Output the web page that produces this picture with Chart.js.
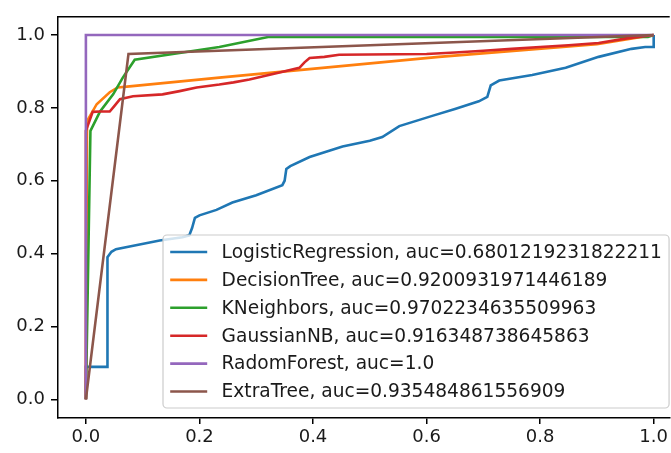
<!DOCTYPE html>
<html>
<head>
<meta charset="utf-8">
<script src="https://cdn.jsdelivr.net/npm/chart.js@4/dist/chart.umd.min.js"></script>
<style>
  html, body { margin: 0; padding: 0; background: #fff; overflow: hidden; }
  #wrap { width: 671px; height: 453px; position: relative; }
</style>
</head>
<body>
<div id="wrap"><canvas id="c" width="671" height="453"></canvas></div>
<script>
// ---- Data ----
const modelNames = ["LogisticRegression", "DecisionTree", "KNeighbors", "GaussianNB", "RadomForest", "ExtraTree"];
const aucValues = ["0.6801219231822211", "0.9200931971446189", "0.9702234635509963", "0.916348738645863", "1.0", "0.935484861556909"];
const seriesColors = ["#1f77b4", "#ff7f0e", "#2ca02c", "#d62728", "#9467bd", "#8c564b"];

const lrFpr = [0, 0, 0.038, 0.038, 0.045, 0.053, 0.088, 0.13, 0.17, 0.182, 0.187, 0.192, 0.2, 0.23, 0.258, 0.3, 0.346, 0.35, 0.353, 0.36, 0.394, 0.452, 0.5, 0.522, 0.552, 0.61, 0.65, 0.692, 0.707, 0.713, 0.728, 0.786, 0.845, 0.903, 0.961, 0.985, 1, 1];
const lrTpr = [0, 0.089, 0.089, 0.39, 0.405, 0.412, 0.423, 0.436, 0.445, 0.45, 0.47, 0.498, 0.505, 0.52, 0.54, 0.56, 0.588, 0.6, 0.632, 0.64, 0.665, 0.694, 0.71, 0.72, 0.75, 0.778, 0.797, 0.818, 0.83, 0.862, 0.875, 0.89, 0.91, 0.94, 0.962, 0.967, 0.967, 1];

const dtFpr = [0, 0.002, 0.019, 0.042, 0.056, 0.077, 0.235, 0.622, 0.9, 1];
const dtTpr = [0, 0.764, 0.81, 0.843, 0.856, 0.859, 0.883, 0.94, 0.975, 1];

const knFpr = [0, 0.008, 0.025, 0.048, 0.065, 0.086, 0.235, 0.323, 0.99, 1];
const knTpr = [0, 0.737, 0.79, 0.837, 0.883, 0.932, 0.967, 0.995, 0.995, 1];

const nbFpr = [0, 0, 0.003, 0.012, 0.025, 0.042, 0.05, 0.06, 0.083, 0.135, 0.165, 0.195, 0.235, 0.26, 0.288, 0.341, 0.376, 0.385, 0.394, 0.42, 0.446, 0.6, 0.65, 0.7, 0.75, 0.8, 0.85, 0.903, 0.95, 1];
const nbTpr = [0, 0.737, 0.75, 0.789, 0.79, 0.79, 0.805, 0.824, 0.832, 0.837, 0.846, 0.856, 0.864, 0.87, 0.878, 0.897, 0.91, 0.925, 0.937, 0.94, 0.946, 0.948, 0.952, 0.957, 0.962, 0.967, 0.972, 0.978, 0.99, 1];

const rfFpr = [0, 0, 1];
const rfTpr = [0, 1, 1];

const etFpr = [0, 0.075, 1];
const etTpr = [0, 0.948, 1];

const xTickValues = [0, 0.2, 0.4, 0.6, 0.8, 1.0];
const yTickValues = [0, 0.2, 0.4, 0.6, 0.8, 1.0];

// ---- Build datasets ----
const fprList = [lrFpr, dtFpr, knFpr, nbFpr, rfFpr, etFpr];
const tprList = [lrTpr, dtTpr, knTpr, nbTpr, rfTpr, etTpr];
const datasets = modelNames.map((name, i) => ({
  label: name + ", auc=" + aucValues[i],
  data: fprList[i].map((x, k) => ({ x: x, y: tprList[i][k] })),
  borderColor: seriesColors[i],
  backgroundColor: seriesColors[i],
  borderWidth: 2.6,
  pointRadius: 0,
  showLine: true,
  fill: false,
  tension: 0,
  order: modelNames.length - 1 - i
}));

const FONT = "'DejaVu Sans', sans-serif";
const FONT_SIZE = 18;
const LEGEND_FONT_SIZE = 18.6;

const frameAndLegend = {
  id: 'frameAndLegend',
  afterDraw(chart) {
    const ctx = chart.ctx;
    const a = chart.chartArea;
    ctx.save();
    // top spine
    ctx.strokeStyle = '#000';
    ctx.lineWidth = 1.5;
    ctx.beginPath();
    ctx.moveTo(a.left, a.top);
    ctx.lineTo(a.right, a.top);
    ctx.stroke();

    // legend
    ctx.font = LEGEND_FONT_SIZE + "px " + FONT;
    const labels = chart.data.datasets.map(d => d.label);
    let maxW = 0;
    labels.forEach(t => { maxW = Math.max(maxW, ctx.measureText(t).width); });
    const pad = 7.2, handleLen = 37, handleGap = 14.4, rowH = 27.9;
    const bx = 163, by = 235;
    const bw = pad + handleLen + handleGap + maxW + pad;
    const bh = 173;
    const r = 4;
    ctx.beginPath();
    ctx.moveTo(bx + r, by);
    ctx.lineTo(bx + bw - r, by);
    ctx.arcTo(bx + bw, by, bx + bw, by + r, r);
    ctx.lineTo(bx + bw, by + bh - r);
    ctx.arcTo(bx + bw, by + bh, bx + bw - r, by + bh, r);
    ctx.lineTo(bx + r, by + bh);
    ctx.arcTo(bx, by + bh, bx, by + bh - r, r);
    ctx.lineTo(bx, by + r);
    ctx.arcTo(bx, by, bx + r, by, r);
    ctx.closePath();
    ctx.fillStyle = 'rgba(255,255,255,0.8)';
    ctx.fill();
    ctx.strokeStyle = '#cccccc';
    ctx.lineWidth = 1.2;
    ctx.stroke();

    ctx.textBaseline = 'middle';
    ctx.textAlign = 'left';
    chart.data.datasets.forEach((d, i) => {
      const cy = 252 + i * rowH;
      ctx.strokeStyle = d.borderColor;
      ctx.lineWidth = 2.6;
      ctx.beginPath();
      ctx.moveTo(bx + pad, cy);
      ctx.lineTo(bx + pad + handleLen, cy);
      ctx.stroke();
      ctx.fillStyle = '#1a1a1a';
      ctx.fillText(d.label, bx + pad + handleLen + handleGap, cy + 1);
    });
    ctx.restore();
  }
};

new Chart(document.getElementById('c'), {
  type: 'scatter',
  data: { datasets: datasets },
  options: {
    responsive: false,
    animation: false,
    devicePixelRatio: 1,
    layout: { padding: { top: 11.5, right: 0, left: 0, bottom: 0 }, autoPadding: false },
    plugins: { legend: { display: false }, tooltip: { enabled: false } },
    scales: {
      x: {
        type: 'linear',
        min: -0.05,
        max: 1.0282,
        afterBuildTicks: s => { s.ticks = xTickValues.map(v => ({ value: v })); },
        afterFit: s => { s.height = 35.5; },
        grid: { display: true, drawOnChartArea: false, drawTicks: true, tickLength: 6.5, color: '#000', lineWidth: 1.5 },
        border: { display: true, color: '#000', width: 1.5 },
        ticks: { color: '#1a1a1a', font: { family: FONT, size: FONT_SIZE }, padding: 3, maxRotation: 0, callback: v => Number(v).toFixed(1) }
      },
      y: {
        type: 'linear',
        min: -0.05,
        max: 1.05,
        afterBuildTicks: s => { s.ticks = yTickValues.map(v => ({ value: v })); },
        afterFit: s => { s.width = 57.5; },
        grid: { display: true, drawOnChartArea: false, drawTicks: true, tickLength: 6.5, color: '#000', lineWidth: 1.5 },
        border: { display: true, color: '#000', width: 1.5 },
        ticks: { color: '#1a1a1a', font: { family: FONT, size: FONT_SIZE }, padding: 6, callback: v => Number(v).toFixed(1) }
      }
    }
  },
  plugins: [frameAndLegend]
});
</script>
</body>
</html>
